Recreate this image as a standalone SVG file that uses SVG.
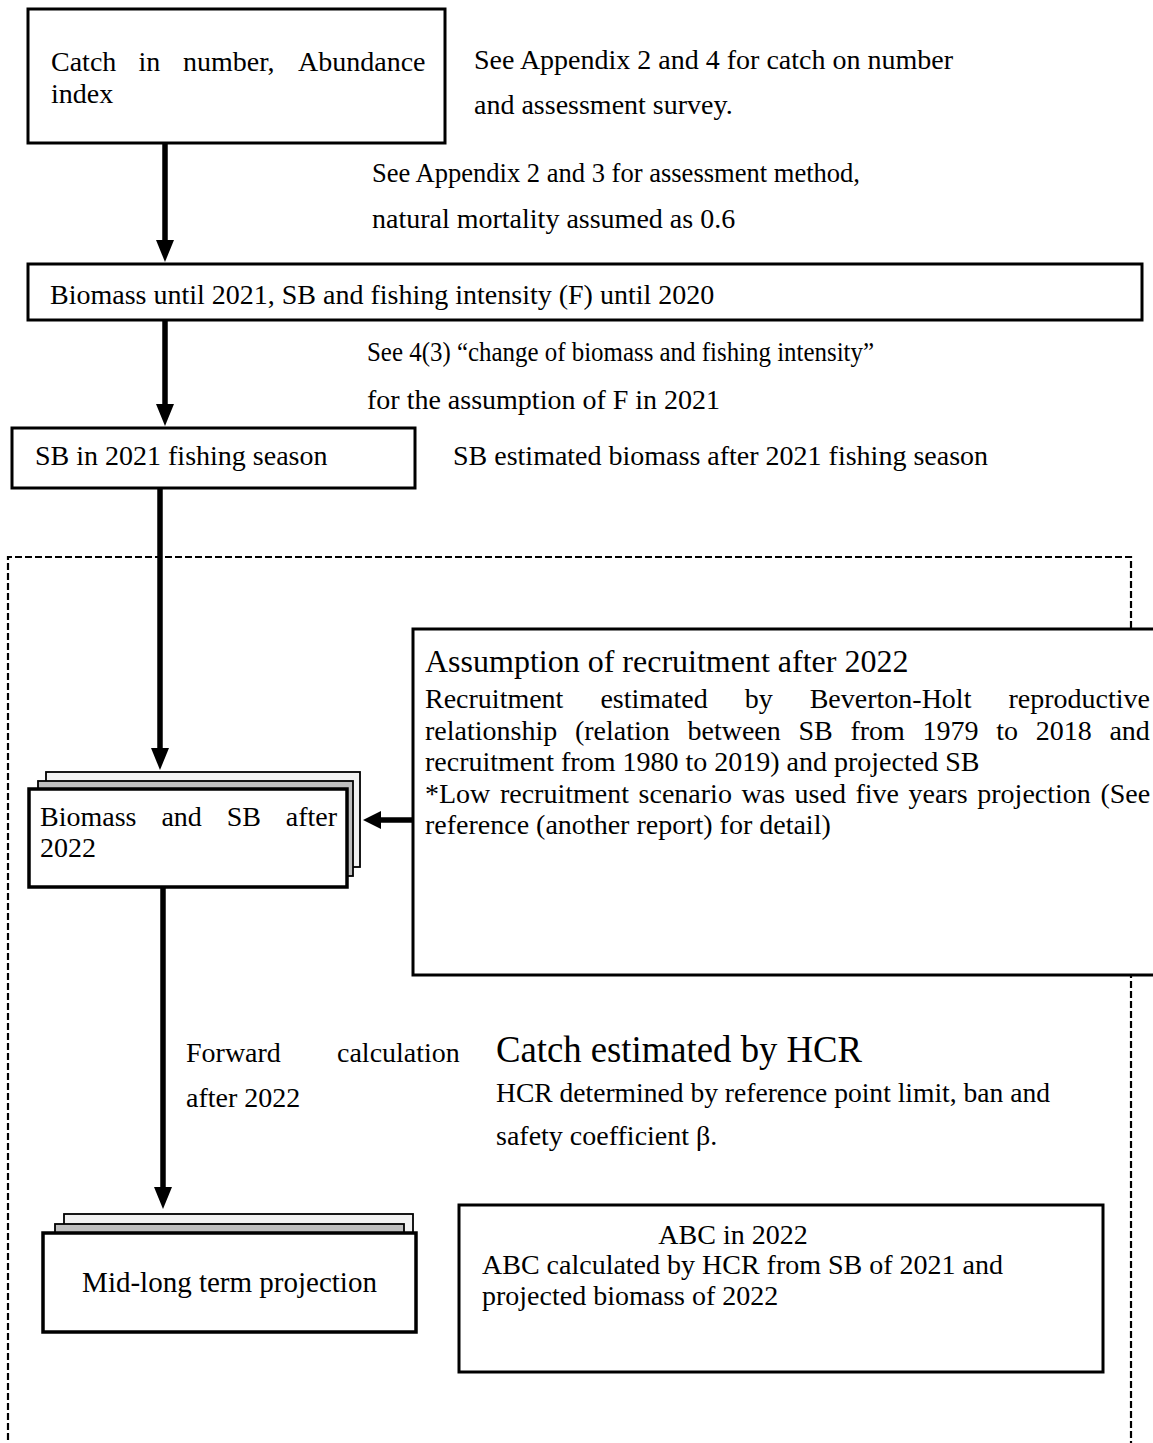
<svg xmlns="http://www.w3.org/2000/svg" width="1153" height="1443" viewBox="0 0 1153 1443">
<style>
text{font-family:"Liberation Serif","Times New Roman",serif;font-size:28px;fill:#000}
.box{fill:#fff;stroke:#000;stroke-width:3}
.back{fill:#f2f2f2;stroke:#000;stroke-width:1.8}
.mid{fill:#bfbfbf;stroke:#000;stroke-width:1.8}
.conn{stroke:#000;stroke-width:5.5;fill:none}
.head{fill:#000;stroke:none}
.dash{fill:none;stroke:#000;stroke-width:2.2;stroke-dasharray:7 3}
</style>
<rect width="1153" height="1443" fill="#fff"/>
<path class="dash" d="M8,1450 V557 H1131 V1450"/>

<g id="n-catch">
<rect class="box" x="28" y="9" width="417" height="134"/>
<text y="71"><tspan x="51">Catch</tspan><tspan x="138.5">in</tspan><tspan x="183">number,</tspan><tspan x="298">Abundance</tspan></text>
<text x="51" y="103">index</text>
</g>
<g id="t-note1">
<text x="474" y="69">See Appendix 2 and 4 for catch on number</text>
<text x="474" y="114">and assessment survey.</text>
</g>
<g id="t-note2">
<text x="372" y="182" textLength="488" lengthAdjust="spacingAndGlyphs">See Appendix 2 and 3 for assessment method,</text>
<text x="372" y="228">natural mortality assumed as 0.6</text>
</g>
<g id="n-biomass2021">
<rect class="box" x="28" y="264" width="1114" height="56"/>
<text x="50" y="304">Biomass until 2021, SB and fishing intensity (F) until 2020</text>
</g>
<g id="t-note3">
<text x="367" y="361" textLength="507" lengthAdjust="spacingAndGlyphs">See 4(3) “change of biomass and fishing intensity”</text>
<text x="367" y="409">for the assumption of F in 2021</text>
</g>
<g id="n-sb2021">
<rect class="box" x="12" y="428" width="403" height="60"/>
<text x="35" y="465">SB in 2021 fishing season</text>
</g>
<g id="t-note4">
<text x="453" y="465">SB estimated biomass after 2021 fishing season</text>
</g>

<g id="n-recruit">
<rect class="box" x="413" y="629" width="760" height="346"/>
<text x="425" y="672" style="font-size:32px">Assumption of recruitment after 2022</text>
<text y="708"><tspan x="425">Recruitment</tspan><tspan x="600.4">estimated</tspan><tspan x="744.7">by</tspan><tspan x="809.7">Beverton-Holt</tspan><tspan x="1008.5">reproductive</tspan></text>
<text y="740"><tspan x="425">relationship</tspan><tspan x="574.9">(relation</tspan><tspan x="687.5">between</tspan><tspan x="798.5">SB</tspan><tspan x="850.4">from</tspan><tspan x="922.5">1979</tspan><tspan x="996.2">to</tspan><tspan x="1035.7">2018</tspan><tspan x="1109.4">and</tspan></text>
<text x="425" y="771">recruitment from 1980 to 2019) and projected SB</text>
<text y="803"><tspan x="425">*Low</tspan><tspan x="499.9">recruitment</tspan><tspan x="638.6">scenario</tspan><tspan x="741.5">was</tspan><tspan x="794.6">used</tspan><tspan x="855.5">five</tspan><tspan x="908.6">years</tspan><tspan x="977.3">projection</tspan><tspan x="1100.4">(See</tspan></text>
<text x="425" y="834">reference (another report) for detail)</text>
</g>

<g id="n-biomass2022">
<rect class="back" x="46" y="772" width="314" height="95"/>
<rect class="mid" x="38" y="781" width="315" height="95"/>
<rect class="box" x="29" y="789" width="318" height="98" style="stroke-width:3.5"/>
<text y="826"><tspan x="40">Biomass</tspan><tspan x="161.4">and</tspan><tspan x="226.7">SB</tspan><tspan x="285.8">after</tspan></text>
<text x="40" y="857">2022</text>
</g>

<g id="t-forward">
<text y="1062"><tspan x="186">Forward</tspan><tspan x="337">calculation</tspan></text>
<text x="186" y="1107">after 2022</text>
</g>
<g id="t-hcr">
<text x="496" y="1062" style="font-size:37px" textLength="366" lengthAdjust="spacingAndGlyphs">Catch estimated by HCR</text>
<text x="496" y="1102" textLength="554" lengthAdjust="spacingAndGlyphs">HCR determined by reference point limit, ban and</text>
<text x="496" y="1145">safety coefficient β.</text>
</g>

<g id="n-midlong">
<rect class="back" x="64" y="1214" width="349" height="40"/>
<rect class="mid" x="55" y="1224" width="349" height="40"/>
<rect class="box" x="43" y="1233" width="373" height="99" style="stroke-width:3.5"/>
<text x="229.5" y="1292" text-anchor="middle" style="font-size:29px">Mid-long term projection</text>
</g>

<g id="n-abc">
<rect class="box" x="459" y="1205" width="644" height="167"/>
<text x="733" y="1244" text-anchor="middle">ABC in 2022</text>
<text x="482" y="1274">ABC calculated by HCR from SB of 2021 and</text>
<text x="482" y="1305">projected biomass of 2022</text>
</g>

<g id="connectors">
<line class="conn" x1="165" y1="143" x2="165" y2="245"/>
<polygon class="head" points="156,240 174,240 165,262"/>
<line class="conn" x1="165" y1="320" x2="165" y2="409"/>
<polygon class="head" points="156,404 174,404 165,426"/>
<line class="conn" x1="160" y1="488" x2="160" y2="753"/>
<polygon class="head" points="151,748 169,748 160,770"/>
<line class="conn" x1="163" y1="887" x2="163" y2="1192"/>
<polygon class="head" points="154,1187 172,1187 163,1209"/>
<line class="conn" x1="413" y1="820" x2="376" y2="820"/>
<polygon class="head" points="381,811 381,829 363,820"/>
</g>
</svg>
